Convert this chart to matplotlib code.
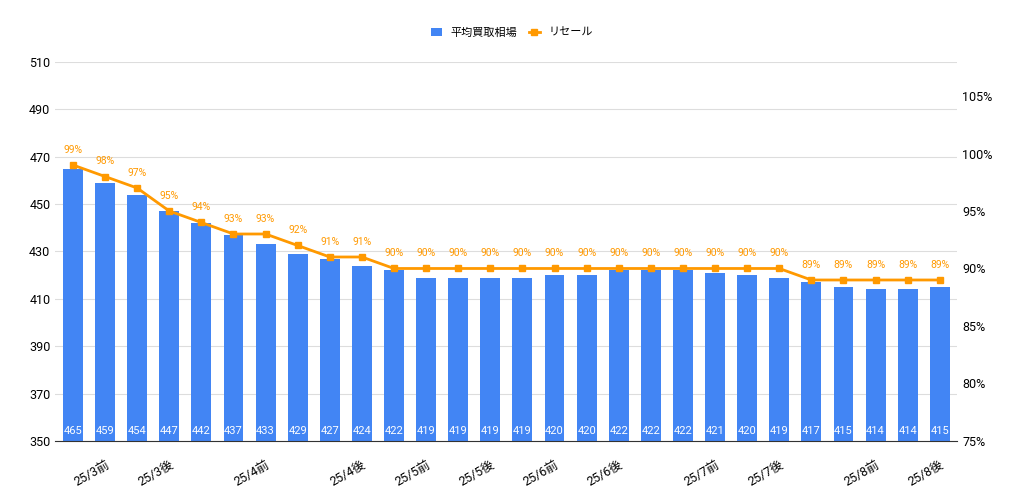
import matplotlib
matplotlib.use("Agg")
import matplotlib.pyplot as plt
from matplotlib.ticker import FuncFormatter

plt.rcParams['font.family'] = ['Roboto', 'Noto Sans CJK JP']

prices = [465,459,454,447,442,437,433,429,427,424,422,419,419,419,419,420,420,422,422,422,421,420,419,417,415,414,414,415]
resale = [99,98,97,95,94,93,93,92,91,91] + [90]*13 + [89]*5
tick_idx = [1,3,6,9,11,13,15,17,20,22,25,27]
tick_labels = ["25/3前","25/3後","25/4前","25/4後","25/5前","25/5後","25/6前","25/6後","25/7前","25/7後","25/8前","25/8後"]

blue = "#4285F4"; orange = "#FF9900"
fig = plt.figure(figsize=(10.24,4.96), dpi=100)
ax = fig.add_axes([0.054, 0.111, 0.881, 0.764])
x = list(range(len(prices)))
ax.bar(x, [p-350 for p in prices], bottom=350, width=0.62, color=blue, label="平均買取相場", zorder=2)
for i,p in zip(x, prices):
    ax.text(i, 352, str(p), ha='center', va='bottom', color='white', fontsize=8, zorder=3)
ax.set_ylim(350, 510)
ax.set_yticks(range(350, 511, 20))
ax.set_xlim(-0.55, len(prices)-0.45)
ax.grid(axis='y', color='#dddddd', lw=0.8, zorder=0)
ax.set_axisbelow(True)
for s in ['top','right','left']:
    ax.spines[s].set_visible(False)
ax.spines['bottom'].set_color('#333333')
ax.tick_params(axis='y', length=0, labelsize=9)
ax.set_xticks(tick_idx)
ax.set_xticklabels(tick_labels, rotation=30, ha='right', rotation_mode='anchor', fontsize=9)
ax.tick_params(axis='x', length=0, pad=12)

ax2 = ax.twinx()
ax2.plot(x, resale, color=orange, lw=2, marker='s', ms=5, label="リセール", zorder=4)
for i,r in zip(x, resale):
    ax2.text(i, r+0.9, f"{r}%", ha='center', va='bottom', color=orange, fontsize=7.5)
ax2.set_ylim(75, 75+32.96)
ax2.set_yticks(range(75, 106, 5))
ax2.yaxis.set_major_formatter(FuncFormatter(lambda v,p: f"{int(v)}%"))
ax2.tick_params(axis='y', length=0, labelsize=9)
for s in ['top','right','left','bottom']:
    ax2.spines[s].set_visible(False)

h1,l1 = ax.get_legend_handles_labels(); h2,l2 = ax2.get_legend_handles_labels()
fig.legend(h1+h2, l1+l2, loc='upper center', bbox_to_anchor=(0.5, 0.965), ncol=2, frameon=False, fontsize=8, handlelength=1, columnspacing=1)
fig.savefig("out.png", dpi=100)
